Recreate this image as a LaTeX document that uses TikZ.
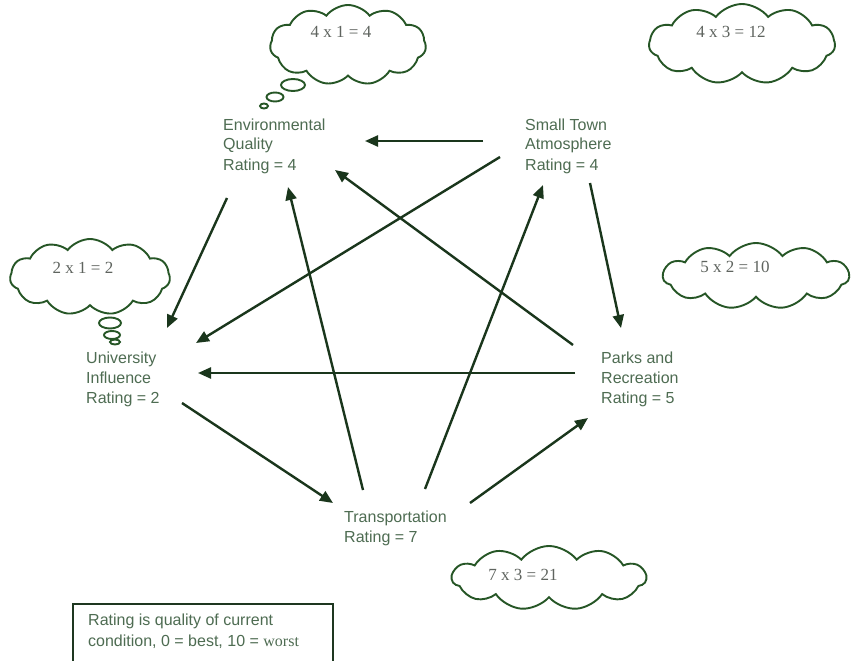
\documentclass[tikz,border=0pt]{standalone}
\usepackage{fontspec}
\setmainfont{Liberation Sans}
\newfontfamily\serifx{Liberation Serif}
\usetikzlibrary{arrows.meta,calc,shapes.symbols}
\definecolor{arrowc}{RGB}{26,54,28}
\definecolor{cloudc}{RGB}{38,86,38}
\definecolor{labc}{RGB}{78,108,82}
\definecolor{cloudtext}{RGB}{95,100,95}
\definecolor{boxc}{RGB}{30,55,32}
\begin{document}
\begin{tikzpicture}[x=1pt,y=-1pt,
  lab/.style={anchor=base west, inner sep=0pt, text=labc, font=\fontsize{16}{20}\selectfont},
  arr/.style={draw=arrowc, line width=2.4pt, -{Triangle[length=13pt,width=11pt]}},
  puff/.style={cloud, cloud puffs=11, cloud puff arc=105, cloud ignores aspect, draw=cloudc, line width=1.9pt, inner sep=0pt},
  bubble/.style={draw=cloudc, line width=1.9pt},
  ctext/.style={anchor=base, inner sep=0pt, text=cloudtext, font=\serifx\fontsize{17}{19}\selectfont}
]
\useasboundingbox[fill=white] (0,0) rectangle (855,661);

% clouds
\node[puff, minimum width=156pt, minimum height=80pt] (c1) at (348,45) {};
\node[ctext] (t1) at (341,38) {4 x 1 = 4};
\draw[bubble] (293,85) ellipse [x radius=12pt, y radius=6pt];
\draw[bubble] (275,97) ellipse [x radius=8.5pt, y radius=4.5pt];
\draw[bubble] (264,106) ellipse [x radius=4pt, y radius=2.5pt];

\node[puff, minimum width=186pt, minimum height=80pt] (c2) at (742,44) {};
\node[ctext] (t2) at (731,38) {4 x 3 = 12};

\node[puff, minimum width=160pt, minimum height=76pt] (c3) at (90,277) {};
\node[ctext] (t3) at (83,273) {2 x 1 = 2};
\draw[bubble] (110,323) ellipse [x radius=11pt, y radius=5.5pt];
\draw[bubble] (112,335) ellipse [x radius=8pt, y radius=4pt];
\draw[bubble] (115,342) ellipse [x radius=5pt, y radius=2.5pt];

\node[puff, minimum width=186pt, minimum height=66pt] (c4) at (756,276) {};
\node[ctext] (t4) at (735,272) {5 x 2 = 10};

\node[puff, minimum width=194pt, minimum height=64pt] (c5) at (549,578) {};
\node[ctext] (t5) at (523,580) {7 x 3 = 21};

% labels
\node[lab] (env) at (223,130) {\begin{tabular}[t]{@{}l@{}}Environmental\\Quality\\Rating = 4\end{tabular}};
\node[lab] (small) at (525,130) {\begin{tabular}[t]{@{}l@{}}Small Town\\Atmosphere\\Rating = 4\end{tabular}};
\node[lab] (univ) at (86,363) {\begin{tabular}[t]{@{}l@{}}University\\Influence\\Rating = 2\end{tabular}};
\node[lab] (parks) at (601,363) {\begin{tabular}[t]{@{}l@{}}Parks and\\Recreation\\Rating = 5\end{tabular}};
\node[lab] (trans) at (344,522) {\begin{tabular}[t]{@{}l@{}}Transportation\\Rating = 7\end{tabular}};

% arrows
\draw[arr] ($(small.base west)+(-42,11)$) -- ($(env.base west)+(142,11)$);
\draw[arr] ($(small.base west)+(-25,27)$) -- ($(univ.base west)+(110,-20)$);
\draw[arr] ($(env.base west)+(4,68)$) -- ($(univ.base west)+(81,-35)$);
\draw[arr] ($(small.base west)+(65,53)$) -- ($(parks.base west)+(20,-35)$);
\draw[arr] ($(parks.base west)+(-28,-18)$) -- ($(env.base west)+(112,40)$);
\draw[arr] ($(parks.base west)+(-26,10)$) -- ($(univ.base west)+(112,10)$);
\draw[arr] ($(univ.base west)+(96,40)$) -- ($(trans.base west)+(-11,-19)$);
\draw[arr] ($(trans.base west)+(126,-19)$) -- ($(parks.base west)+(-13,55)$);
\draw[arr] ($(trans.base west)+(81,-33)$) -- ($(small.base west)+(18,55)$);
\draw[arr] ($(trans.base west)+(19,-32)$) -- ($(env.base west)+(65,57)$);

% legend
\draw[boxc, line width=1.6pt] (73,661) -- (73,604) -- (333,604) -- (333,661);
\node[lab, font=\fontsize{16}{21}\selectfont] (legend) at (88,625) {\begin{tabular}[t]{@{}l@{}}Rating is quality of current\\condition, 0 = best, 10 = {\serifx worst}\end{tabular}};
\end{tikzpicture}
\end{document}
